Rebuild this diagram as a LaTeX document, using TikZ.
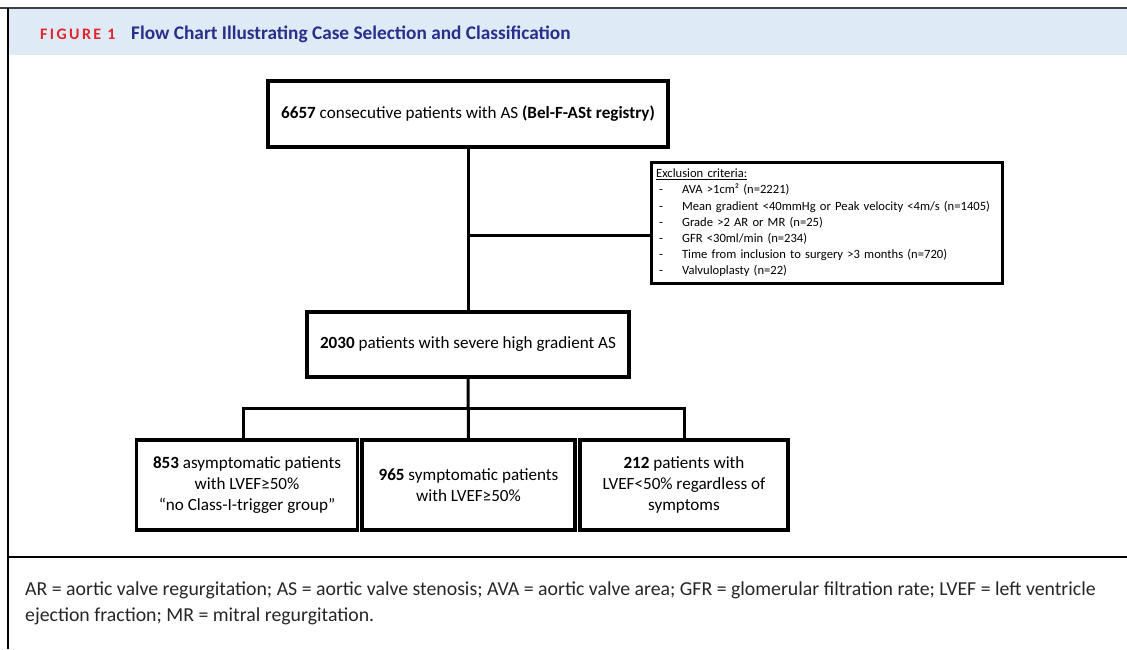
\documentclass[tikz,border=0pt]{standalone}
\usepackage{fontspec}
\setmainfont{Carlito}
\usetikzlibrary{calc}
\definecolor{hdrbg}{HTML}{DEEAF6}
\definecolor{hdrred}{HTML}{E2242E}
\definecolor{hdrblue}{HTML}{2B2E8A}
\begin{document}
\begin{tikzpicture}[x=1pt,y=-1pt,
  box/.style={draw=black,line width=3.2pt,fill=white,align=center,inner sep=4pt,font=\fontsize{17.1}{21}\selectfont},
  conn/.style={draw=black,line width=3pt},
  capt/.style={anchor=west,inner sep=0pt,font=\fontsize{19.8}{22}\selectfont,text=black!85}]
\useasboundingbox (0,0) rectangle (1127,649);
% frame
\fill[hdrbg] (9,9) rectangle (1127,55);
\draw[black!75,line width=1.5pt] (0,8) -- (1127,8);
\draw[black,line width=1.5pt] (8,8) -- (8,649);
\draw[black,line width=2pt] (8,557) -- (1127,557);
\node[anchor=west,inner sep=0pt,text=hdrred,font=\fontsize{16}{16}\selectfont\bfseries\addfontfeature{LetterSpace=15}] (fig) at (40,34) {FIGURE 1};
\node[anchor=west,inner sep=0pt,text=hdrblue,font=\fontsize{19.3}{20}\selectfont\bfseries] (title) at (131,34) {Flow Chart Illustrating Case Selection and Classification};
% boxes
\node[box,minimum width=400,minimum height=66] (b1) at (468,114) {\textbf{6657} consecutive patients with AS \textbf{(Bel-F-ASt registry)}};
\node[box,minimum height=121,align=left,anchor=west,text width=342pt,font=\fontsize{12.6}{16.2}\selectfont,inner xsep=4.5pt,inner ysep=4pt] (ex) at (650,223)
 {\underline{Exclusion criteria:}\\
  \makebox[26pt][l]{\hspace{3pt}-}AVA >1cm² (n=2221)\\
  \makebox[26pt][l]{\hspace{3pt}-}Mean gradient <40mmHg or Peak velocity <4m/s (n=1405)\\
  \makebox[26pt][l]{\hspace{3pt}-}Grade >2 AR or MR (n=25)\\
  \makebox[26pt][l]{\hspace{3pt}-}GFR <30ml/min (n=234)\\
  \makebox[26pt][l]{\hspace{3pt}-}Time from inclusion to surgery >3 months (n=720)\\
  \makebox[26pt][l]{\hspace{3pt}-}Valvuloplasty (n=22)};
\node[box,minimum width=322,minimum height=65] (b2) at (468,344.5) {\textbf{2030} patients with severe high gradient AS};
\node[box,minimum width=221,minimum height=90] (b3) at (247,485) {\textbf{853} asymptomatic patients\\with LVEF≥50\%\\“no Class-I-trigger group”};
\node[box,minimum width=213,minimum height=90] (b4) at (468.5,485) {\textbf{965} symptomatic patients\\with LVEF≥50\%};
\node[box,minimum width=208,minimum height=90] (b5) at (684,485) {\textbf{212} patients with\\LVEF<50\% regardless of\\symptoms};
% connectors
\coordinate (j1) at (468,235);
\coordinate (sp) at (468,408);
\draw[conn] (b1.south) -- (b2.north);
\draw[conn] (j1) -- (j1 -| ex.west);
\draw[conn] (b2.south) -- (b4.north);
\draw[conn] ([xshift=-4pt]b3.north) |- (sp) -| (b5.north);
% caption
\node[capt] (c1) at (25,590) {AR = aortic valve regurgitation; AS = aortic valve stenosis; AVA = aortic valve area; GFR = glomerular filtration rate; LVEF = left ventricle};
\node[capt] (c2) at (25,616) {ejection fraction; MR = mitral regurgitation.};
\end{tikzpicture}
\end{document}
